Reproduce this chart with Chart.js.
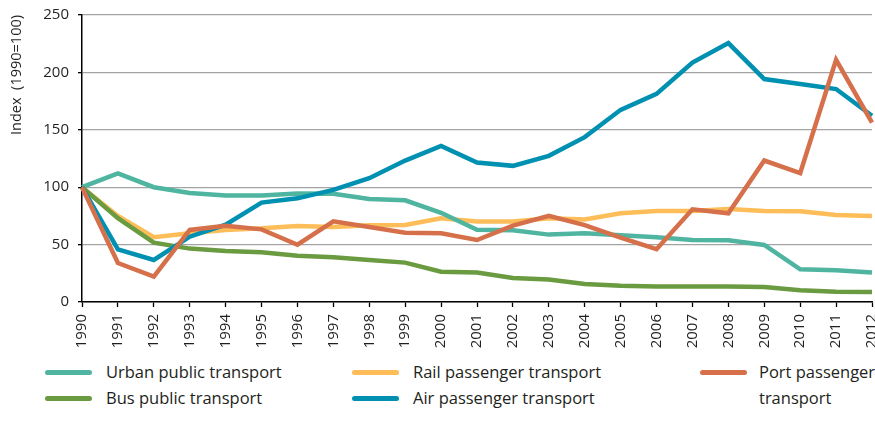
<!DOCTYPE html>
<html>
<head>
<meta charset="utf-8">
<script src="https://cdn.jsdelivr.net/npm/chart.js@4"></script>
<style>
  html, body { margin: 0; padding: 0; background: #fff; }
  #wrap { position: relative; width: 875px; height: 434px; }
  #chartBox { position: absolute; left: 0; top: 0; width: 875px; height: 350px; }
  .leg { position: absolute; font-family: "Open Sans", sans-serif; font-size: 16.5px; color: #231f20; line-height: 26px; }
  .leg .sw { position: absolute; left: 0; width: 47px; height: 5px; border-radius: 3px; }
  .leg .tx { position: absolute; white-space: nowrap; }
</style>
</head>
<body>
<div id="wrap">
  <div id="chartBox"><canvas id="transportChart"></canvas></div>
  <div id="legend"></div>
</div>
<script>
const years = ['1990', '1991', '1992', '1993', '1994', '1995', '1996', '1997', '1998', '1999', '2000',
  '2001', '2002', '2003', '2004', '2005', '2006', '2007', '2008', '2009', '2010', '2011', '2012'];

const urbanPublic = [100, 112, 100, 95, 92.7, 92.7, 94.6, 94.2, 89.8, 88.6, 77.7, 63, 62.5, 58.7, 59.8, 58.1, 56.4, 54, 53.8, 49.7, 28.5, 27.6, 25.6];
const busPublic = [100, 73, 51.7, 46.5, 44.5, 43.3, 40.3, 39, 36.6, 34.3, 26.4, 25.6, 20.9, 19.5, 15.7, 14.2, 13.6, 13.6, 13.6, 13.1, 10.2, 8.9, 8.7];
const railPassenger = [100, 75, 56.4, 59.9, 62.8, 64.2, 66.3, 65.4, 66.8, 67, 73, 70.2, 70.2, 73, 71.8, 77.3, 79.3, 79.3, 81, 79.3, 79, 75.8, 75];
const airPassenger = [100, 45.9, 36.6, 56.9, 67.4, 86.6, 90.3, 97.6, 107.8, 123.2, 136, 121.5, 118.6, 127.3, 143.6, 167.4, 181.3, 208.6, 225.5, 194.2, 189.9, 185.5, 162.2];
const portPassenger = [100, 33.9, 22.2, 62.8, 66.5, 63.3, 49.9, 70.3, 65.4, 60.4, 59.9, 54, 66.5, 75, 67, 56.1, 46, 80.8, 77.3, 123.2, 112.2, 211, 156.3];

const yTicks = [0, 50, 100, 150, 200, 250];

const seriesNames = ['Urban public transport', 'Bus public transport', 'Rail passenger transport', 'Air passenger transport', 'Port passenger transport'];
const seriesColors = ['#4fb5a0', '#6a9b40', '#fdbd58', '#0090b1', '#d5704b'];
const seriesData = [urbanPublic, busPublic, railPassenger, airPassenger, portPassenger];
const drawOrder = [3, 2, 4, 1, 0];

const baseFont = { family: '"Open Sans", sans-serif', size: 15 };

const datasets = seriesNames.map((name, i) => ({
    label: name,
    data: seriesData[i],
    borderColor: seriesColors[i],
    backgroundColor: seriesColors[i],
    borderWidth: 4.5,
    pointRadius: 0,
    tension: 0,
    order: drawOrder[i],
}));

new Chart(document.getElementById('transportChart'), {
    type: 'line',
    data: { labels: years, datasets: datasets },
    options: {
        responsive: true,
        maintainAspectRatio: false,
        animation: false,
        layout: { padding: { top: 15, left: 0, right: 0, bottom: 0 } },
        plugins: {
            legend: { display: false },
            tooltip: { enabled: false },
        },
        scales: {
            x: {
                offset: false,
                grid: { drawOnChartArea: false, drawTicks: true, tickLength: 5, tickColor: '#000', tickWidth: 1.3 },
                border: { display: true, color: '#000', width: 1.5 },
                ticks: {
                    color: '#231f20',
                    font: baseFont,
                    autoSkip: false,
                    minRotation: 90,
                    maxRotation: 90,
                    padding: 7,
                },
                afterFit: (scale) => {
                    scale.height = 48;
                    scale.paddingLeft = 0;
                    scale.paddingRight = 3;
                },
            },
            y: {
                min: 0,
                max: 250,
                afterBuildTicks: (scale) => {
                    scale.ticks = yTicks.map(v => ({ value: v }));
                },
                grid: { color: '#a3a3a3', lineWidth: 1.3, drawTicks: true, tickLength: 4, tickColor: '#000', tickWidth: 1.3 },
                border: { display: true, color: '#000', width: 1.5 },
                ticks: { color: '#231f20', font: baseFont, padding: 9 },
                title: {
                    display: true,
                    text: 'Index  (1990=100)',
                    align: 'end',
                    color: '#231f20',
                    font: { family: '"Open Sans", sans-serif', size: 14.5 },
                    padding: { top: 8, bottom: 0 },
                },
                afterFit: (scale) => {
                    scale.width = 82;
                    scale.paddingTop = 0;
                    scale.paddingBottom = 0;
                },
            },
        },
    },
});

// legend: three columns, two rows
const legendPos = [
    { x: 45, y: 372 }, { x: 45, y: 398 },
    { x: 352, y: 372 }, { x: 352, y: 398 },
    { x: 700, y: 372 },
];
const legendText = ['Urban public transport', 'Bus public transport', 'Rail passenger transport', 'Air passenger transport', 'Port passenger<br>transport'];
const legendEl = document.getElementById('legend');
legendText.forEach((txt, k) => {
    const p = legendPos[k];
    const item = document.createElement('div');
    item.className = 'leg';
    item.style.left = p.x + 'px';
    item.style.top = (p.y - 13) + 'px';
    item.innerHTML = '<div class="sw" style="top:10.5px;background:' + seriesColors[k] + '"></div>' +
        '<div class="tx" style="left:' + (p.x < 400 ? 61 : 59) + 'px">' + txt + '</div>';
    legendEl.appendChild(item);
});
</script>
</body>
</html>
